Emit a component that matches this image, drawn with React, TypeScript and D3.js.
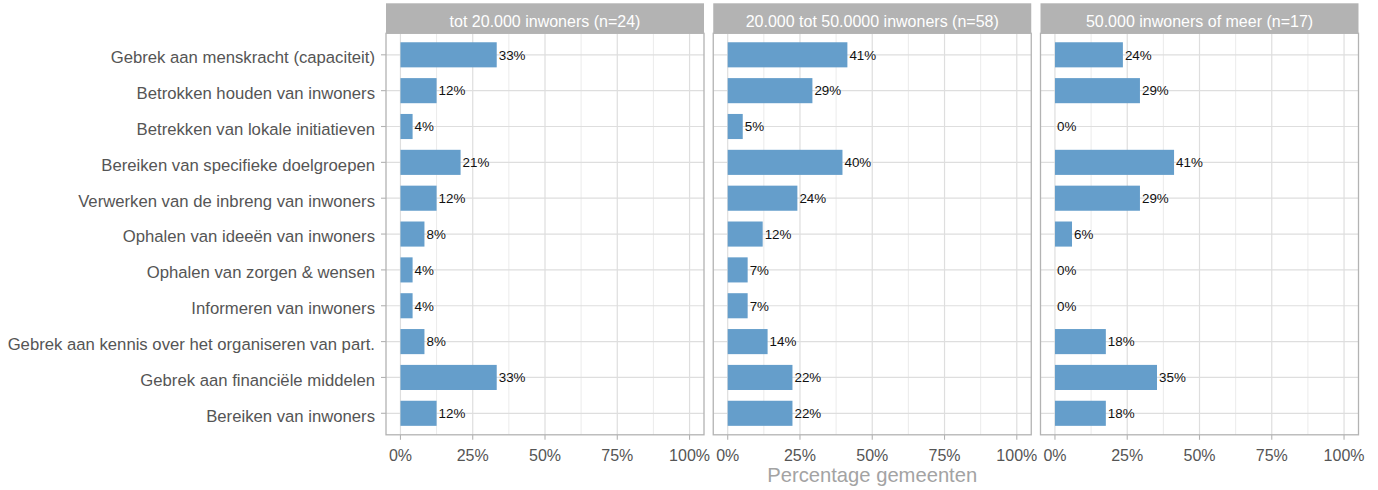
import React from "react";
import * as d3 from "d3";

const categories = [
  "Gebrek aan menskracht (capaciteit)",
  "Betrokken houden van inwoners",
  "Betrekken van lokale initiatieven",
  "Bereiken van specifieke doelgroepen",
  "Verwerken van de inbreng van inwoners",
  "Ophalen van ideeën van inwoners",
  "Ophalen van zorgen & wensen",
  "Informeren van inwoners",
  "Gebrek aan kennis over het organiseren van part.",
  "Gebrek aan financiële middelen",
  "Bereiken van inwoners",
];

const panelTitles = [
  "tot 20.000 inwoners (n=24)",
  "20.000 tot 50.0000 inwoners (n=58)",
  "50.000 inwoners of meer (n=17)",
];

const valuesSmall = [33.3, 12.5, 4.2, 20.8, 12.5, 8.3, 4.2, 4.2, 8.3, 33.3, 12.5];
const valuesMedium = [41.4, 29.3, 5.2, 39.7, 24.1, 12.1, 6.9, 6.9, 13.8, 22.4, 22.4];
const valuesLarge = [23.5, 29.4, 0, 41.2, 29.4, 5.9, 0, 0, 17.6, 35.3, 17.6];

const majorTicks = [0, 25, 50, 75, 100];
const minorTicks = [12.5, 37.5, 62.5, 87.5];
const xTitle = "Percentage gemeenten";

const seriesList = [valuesSmall, valuesMedium, valuesLarge];

const W = 1378;
const H = 490;
const panelLeft = 386;
const panelW = 318;
const panelGap = 9.25;
const panelTop = 33.3;
const panelBottom = 434.8;
const stripTop = 3.3;
const FONT = "'Liberation Sans', Arial, sans-serif";
const BAR = "#659ecb";

// R-style rounding (half to even)
function roundHalfEven(v: number) {
  const f = Math.floor(v);
  const d = v - f;
  if (Math.abs(d - 0.5) < 1e-9) return f % 2 === 0 ? f : f + 1;
  return Math.round(v);
}

export default function App() {
  const y = d3
    .scaleLinear()
    .domain([-0.6, categories.length - 1 + 0.6])
    .range([panelTop, panelBottom]);
  const step = y(1) - y(0);
  const barH = step * 0.7;

  return (
    <svg
      width={W}
      height={H}
      style={{ position: "absolute", left: 0, top: 0, background: "#fff" }}
      fontFamily={FONT}
    >
      {categories.map((c, i) => (
        <g key={c}>
          <text
            x={375}
            y={y(i) + 8.3}
            textAnchor="end"
            fontSize={16.7}
            fill="#555"
          >
            {c}
          </text>
          <line
            x1={381}
            x2={panelLeft}
            y1={y(i)}
            y2={y(i)}
            stroke="#b3b3b3"
            strokeWidth={1.1}
          />
        </g>
      ))}

      {seriesList.map((vals, p) => {
        const x0 = panelLeft + p * (panelW + panelGap);
        const x = d3.scaleLinear().domain([-5, 105]).range([x0, x0 + panelW]);
        return (
          <g key={p}>
            <rect
              x={x0}
              y={stripTop}
              width={panelW}
              height={panelTop - stripTop}
              fill="#b3b3b3"
            />
            <text
              x={x0 + panelW / 2}
              y={26.5}
              textAnchor="middle"
              fontSize={16}
              fill="#ffffff"
            >
              {panelTitles[p]}
            </text>
            {minorTicks.map((t) => (
              <line
                key={"mi" + t}
                x1={x(t)}
                x2={x(t)}
                y1={panelTop}
                y2={panelBottom}
                stroke="#e6e6e6"
                strokeWidth={0.8}
              />
            ))}
            {majorTicks.map((t) => (
              <line
                key={"ma" + t}
                x1={x(t)}
                x2={x(t)}
                y1={panelTop}
                y2={panelBottom}
                stroke="#dedede"
                strokeWidth={1.2}
              />
            ))}
            {categories.map((c, i) => (
              <line
                key={"h" + i}
                x1={x0}
                x2={x0 + panelW}
                y1={y(i)}
                y2={y(i)}
                stroke="#dedede"
                strokeWidth={1.2}
              />
            ))}
            {vals.map((v, i) => (
              <rect
                key={"b" + i}
                x={x(0)}
                y={y(i) - barH / 2}
                width={Math.max(0, x(v) - x(0))}
                height={barH}
                fill={BAR}
              />
            ))}
            {vals.map((v, i) => (
              <text
                key={"l" + i}
                x={x(v) + 2}
                y={y(i) + 4.8}
                fontSize={13.4}
                fill="#111"
              >
                {roundHalfEven(v) + "%"}
              </text>
            ))}
            <rect
              x={x0}
              y={panelTop}
              width={panelW}
              height={panelBottom - panelTop}
              fill="none"
              stroke="#b3b3b3"
              strokeWidth={1.3}
            />
            {majorTicks.map((t) => (
              <g key={"xt" + t}>
                <line
                  x1={x(t)}
                  x2={x(t)}
                  y1={panelBottom}
                  y2={panelBottom + 5}
                  stroke="#b3b3b3"
                  strokeWidth={1.1}
                />
                <text
                  x={x(t)}
                  y={461}
                  textAnchor="middle"
                  fontSize={16}
                  fill="#555"
                >
                  {t + "%"}
                </text>
              </g>
            ))}
          </g>
        );
      })}

      <text
        x={panelLeft + (3 * panelW + 2 * panelGap) / 2}
        y={481.5}
        textAnchor="middle"
        fontSize={20.2}
        fill="#a3a3a3"
      >
        {xTitle}
      </text>
    </svg>
  );
}
